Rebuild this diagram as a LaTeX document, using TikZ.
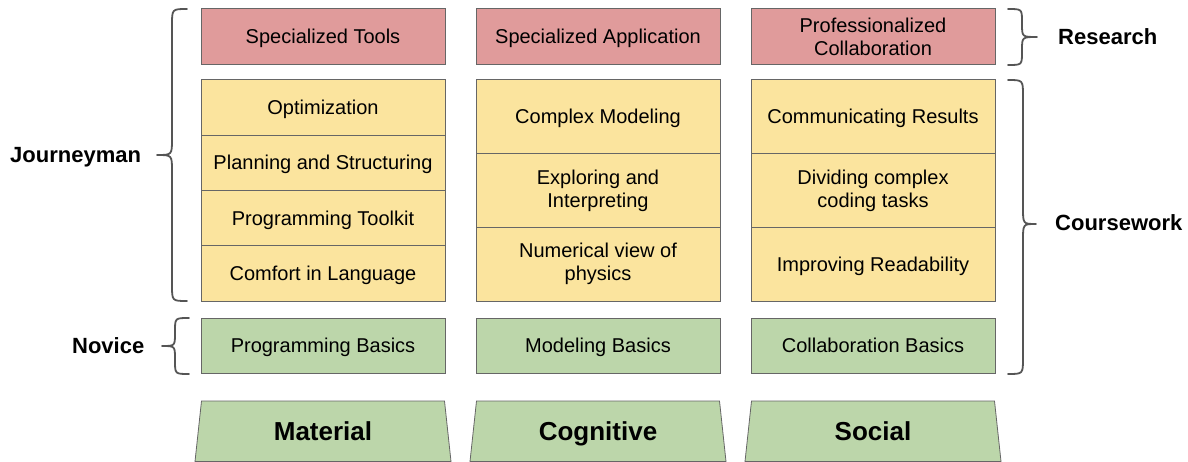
\documentclass[tikz,border=0pt]{standalone}
\usepackage{fontspec}
\setmainfont{Liberation Sans}
\definecolor{redf}{HTML}{E09B9B}
\definecolor{yellowf}{HTML}{FBE49E}
\definecolor{greenf}{HTML}{BCD6AA}
\definecolor{boxline}{HTML}{666666}
\definecolor{braceline}{HTML}{555555}
\newcommand\gbrace[7]{\draw[bracestyle] (#1,#4) .. controls (#2,#4) .. (#2,#4+#7) -- (#2,#5-#7) .. controls (#2,#5) .. (#3,#5) .. controls (#2,#5) .. (#2,#5+#7) -- (#2,#6-#7) .. controls (#2,#6) .. (#1,#6);}
\begin{document}
\begin{tikzpicture}[x=1pt,y=-1pt,
  box/.style={draw=boxline, line width=1pt, minimum width=244pt, inner sep=0pt, align=center, font=\fontsize{20}{23}\selectfont},
  one/.style={text height=14pt, text depth=0pt},
  rbox/.style={box, fill=redf, minimum height=55.5pt},
  ybox4/.style={box, fill=yellowf, minimum height=55.25pt},
  ybox3/.style={box, fill=yellowf, minimum height=73.67pt},
  gbox/.style={box, fill=greenf, minimum height=55.5pt},
  trap/.style={draw=boxline, line width=0.8pt, fill=greenf},
  traplbl/.style={inner sep=0pt, font=\fontsize{26}{30}\selectfont\bfseries, text height=18.6pt, text depth=0pt},
  lbl/.style={inner sep=0pt, font=\fontsize{22}{26}\selectfont\bfseries, text height=15.75pt, text depth=0pt},
  bracestyle/.style={draw=braceline, line width=1.8pt, line cap=round, line join=round}
]
\useasboundingbox (0,0) rectangle (1188,462);

% Research row
\node[rbox,one] (st) at (323,36.75) {Specialized Tools};
\node[rbox,one] (sa) at (598,36.75) {Specialized Application};
\node[rbox] (pc) at (873,36.75) {Professionalized\\Collaboration};

% Material column
\node[ybox4,one] (opt) at (323,107.625) {Optimization};
\node[ybox4,one] (plan) at (323,162.875) {Planning and Structuring};
\node[ybox4,one] (tool) at (323,218.125) {Programming Toolkit};
\node[ybox4,one] (comf) at (323,273.375) {Comfort in Language};

% Cognitive column
\node[ybox3,one] (cm) at (598,116.83) {Complex Modeling};
\node[ybox3] (ei) at (598,190.5) {Exploring and\\Interpreting};
\node[ybox3] (nv) at (598,264.17) {Numerical view of\\physics};

% Social column
\node[ybox3,one] (cr) at (873,116.83) {Communicating Results};
\node[ybox3] (dc) at (873,190.5) {Dividing complex\\coding tasks};
\node[ybox3,one] (ir) at (873,264.17) {Improving Readability};

% Novice row
\node[gbox,one] (pb) at (323,345.75) {Programming Basics};
\node[gbox,one] (mb) at (598,345.75) {Modeling Basics};
\node[gbox,one] (cb) at (873,345.75) {Collaboration Basics};

% Bottom trapezoids
\foreach \cx/\nm/\txt in {323/mat/Material, 598/cog/Cognitive, 873/soc/Social}{
  \draw[trap] (\cx-121.5,401) -- (\cx+121.5,401) -- (\cx+128,461.5) -- (\cx-128,461.5) -- cycle;
  \node[traplbl] (\nm) at (\cx,431.5) {\txt};
}

% Braces
\gbrace{187}{172}{157}{9}{155}{301}{16}
\gbrace{189}{175}{162}{318}{346}{374}{13}
\gbrace{1008}{1022}{1037}{9}{37}{65}{13}
\gbrace{1008}{1023}{1036}{80}{224}{374}{16}

% Level labels
\node[lbl, anchor=west] (jour) at (10,155) {Journeyman};
\node[lbl, anchor=east] (nov) at (144.5,346) {Novice};
\node[lbl, anchor=west] (res) at (1058,37) {Research};
\node[lbl, anchor=west] (cw) at (1055,223) {Coursework};
\end{tikzpicture}
\end{document}
